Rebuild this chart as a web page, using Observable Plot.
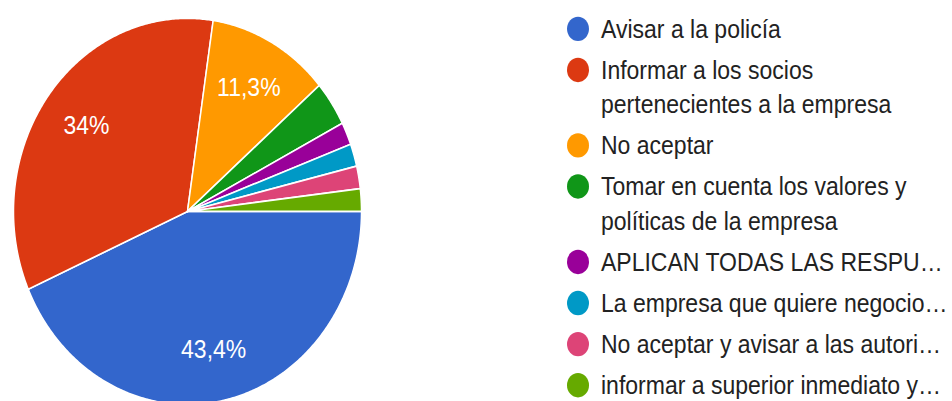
<!DOCTYPE html>
<html>
<head>
<meta charset="utf-8">
<script src="https://cdn.jsdelivr.net/npm/d3@7"></script>
<script src="https://cdn.jsdelivr.net/npm/@observablehq/plot@0.6"></script>
<style>
  html, body { margin: 0; padding: 0; background: #fff; }
  #outer { position: relative; width: 952px; height: 401px; overflow: hidden; }
  #wrap { position: absolute; left: 0; top: 0; width: 952px; height: 361px; transform: scaleY(1.11); transform-origin: 0 0; }
  #chart svg { overflow: visible; display: block; }
  #legend { position: absolute; left: 567px; top: 10.5px; width: 385px; font-family: "Liberation Sans", Arial, sans-serif; font-size: 23px; color: #222; }
  .item { display: flex; align-items: flex-start; margin-bottom: 6px; line-height: 31px; }
  .dot { flex: none; width: 22px; height: 22px; border-radius: 50%; margin-top: 4.5px; margin-right: 12px; }
  .txt { width: 362px; }
</style>
</head>
<body>
<div id="outer">
<div id="wrap">
  <div id="chart"></div>
  <div id="legend"></div>
</div>
</div>
<script>
const labels = [
  "Avisar a la policía",
  "Informar a los socios pertenecientes a la empresa",
  "No aceptar",
  "Tomar en cuenta los valores y políticas de la empresa",
  "APLICAN TODAS LAS RESPU…",
  "La empresa que quiere negocio…",
  "No aceptar y avisar a las autori…",
  "informar a superior inmediato y…"
];
const counts = [23, 18, 6, 2, 1, 1, 1, 1];
const colors = ["#3366cc", "#dc3912", "#ff9900", "#109618", "#990099", "#0099c6", "#dd4477", "#66aa00"];

const total = d3.sum(counts);
const pie = d3.pie().sort(null).startAngle(Math.PI / 2).endAngle(Math.PI / 2 + 2 * Math.PI);
const arcs = pie(counts);

// polygon outline for each slice, derived from the pie angles
const pts = [];
arcs.forEach((a, i) => {
  const key = labels[i];
  pts.push({key, x: 0, y: 0});
  const n = Math.max(2, Math.ceil((a.endAngle - a.startAngle) / (2 * Math.PI) * 720));
  for (let k = 0; k <= n; k++) {
    const t = a.startAngle + (a.endAngle - a.startAngle) * k / n;
    pts.push({key, x: Math.sin(t), y: Math.cos(t)});
  }
  pts.push({key, x: 0, y: 0});
});

const fmt = v => {
  const p = (v / total * 100).toFixed(1).replace(".", ",");
  return p.endsWith(",0") ? p.slice(0, -2) : p;
};
const labelData = arcs
  .filter(a => a.value / total > 0.05)
  .map(a => {
    const m = (a.startAngle + a.endAngle) / 2;
    return {x: 0.73 * Math.sin(m), y: 0.73 * Math.cos(m), text: fmt(a.value) + "%"};
  });

const chart = Plot.plot({
  width: 952,
  height: 361,
  margin: 0,
  x: {domain: [-1, 1], range: [13, 361], axis: null},
  y: {domain: [-1, 1], range: [364, 16], axis: null},
  color: {domain: labels, range: colors},
  style: {fontFamily: "'Liberation Sans', Arial, sans-serif", background: "transparent", overflow: "visible"},
  marks: [
    Plot.line(pts, {x: "x", y: "y", z: "key", fill: "key", stroke: "white", strokeWidth: 1.5, strokeLinejoin: "round", curve: "linear"}),
    Plot.text(labelData, {x: "x", y: "y", text: "text", fill: "white", fontSize: 23})
  ]
});
document.getElementById("chart").appendChild(chart);

const legend = d3.select("#legend");
labels.forEach((l, i) => {
  const it = legend.append("div").attr("class", "item");
  it.append("div").attr("class", "dot").style("background", colors[i]);
  it.append("div").attr("class", "txt").text(l);
});
</script>
</body>
</html>
